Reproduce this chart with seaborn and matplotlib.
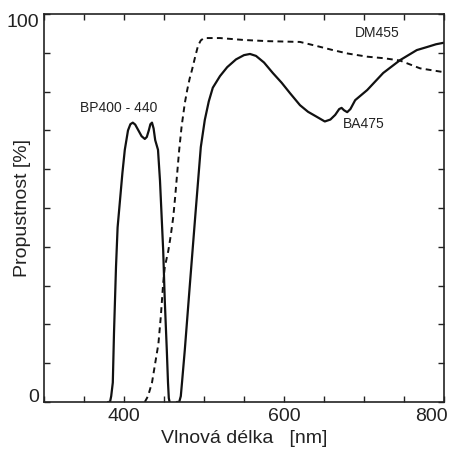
import numpy as np
import pandas as pd
import matplotlib
matplotlib.use("Agg")
import matplotlib.pyplot as plt
import matplotlib.transforms as mtransforms
import seaborn as sns

# BP400-440 excitation filter (solid)
bp_nm = [380, 382.5, 384, 386, 387.5, 390, 392, 395, 398, 401, 405, 408, 411, 414, 418,
         422, 426, 428.5, 431, 433, 435, 437, 439, 442.5, 445, 447, 449, 451, 453.5, 455, 456, 457]
bp_t = [0, 0, 1.5, 5, 17.8, 34.8, 45, 52, 59, 65, 70, 71.6, 72, 71.5, 70,
        68.5, 67.8, 68.3, 70, 71.6, 72, 70.5, 67.5, 65, 57, 48, 39, 26, 13.4, 5, 1, 0]

# BA475 barrier filter (solid)
ba_nm = [466, 469, 471, 472.5, 476, 482.5, 489, 496, 501, 506, 511, 520, 529, 540, 550, 557.5,
         565, 575, 586, 597, 607.5, 620, 630, 641, 651, 658, 664, 669, 672, 675, 679, 683,
         689, 704, 724, 745, 766, 779, 790, 800]
ba_t = [0, 0, 1.5, 5, 13.4, 30.7, 47.7, 65.7, 72.7, 77.5, 81, 84, 86.3, 88.3, 89.4, 89.7,
        89.2, 87.5, 84.8, 82.3, 79.6, 76.5, 74.8, 73.5, 72.3, 72.8, 74, 75.5, 75.8, 75.2, 74.7, 75.5,
        77.8, 80.4, 84.8, 88.1, 90.7, 91.5, 92.2, 92.6]

# DM455 dichroic mirror (dashed)
dm_nm = [426, 430, 435, 439, 443, 446, 449, 451, 455.4, 458.5, 461.6, 464, 466.5, 469, 472,
         476, 479, 482, 485, 489, 492.5, 496, 500, 520, 550, 580, 620, 640, 661, 680, 704,
         725, 745, 770, 800]
dm_t = [0, 1.5, 5, 10, 15, 22, 30.7, 34.8, 39, 43, 47.7, 53, 59, 65, 71,
        77, 80.4, 83.3, 85.6, 89, 91.8, 93.2, 93.8, 93.8, 93.3, 93, 92.8, 91.8, 90.7, 89.8, 89,
        88.6, 88, 86, 85]

labels = {"BP400 - 440": (345, 75.8), "DM455": (689, 95.1), "BA475": (674, 71.6)}

x_ticks = [300, 350, 400, 450, 500, 550, 600, 650, 700, 750, 800]
x_labels = ["", "", "400", "", "", "", "600", "", "", "", "800"]
y_ticks = [0, 10, 20, 30, 40, 50, 60, 70, 80, 90, 100]
y_labels = ["0", "", "", "", "", "", "", "", "", "", "100"]

sns.set_theme(style="ticks")
plt.rcParams['font.family'] = ['Liberation Sans', 'DejaVu Sans']

fig = plt.figure(figsize=(4.5, 4.58), dpi=100)
ax = fig.add_axes([44/450, 56/458, 400/450, 388/458])

bp = pd.DataFrame({"nm": bp_nm, "t": bp_t})
ba = pd.DataFrame({"nm": ba_nm, "t": ba_t})
dm = pd.DataFrame({"nm": dm_nm, "t": dm_t})

sns.lineplot(data=bp, x="nm", y="t", ax=ax, color="#111111", lw=1.6, sort=False)
sns.lineplot(data=ba, x="nm", y="t", ax=ax, color="#111111", lw=1.6, sort=False)
sns.lineplot(data=dm, x="nm", y="t", ax=ax, color="#111111", lw=1.4, sort=False,
             linestyle=(0, (3, 2.2)))

for txt, (x, y) in labels.items():
    ax.text(x, y, txt, fontsize=10, ha="left", va="center", color="#222222")

ax.set_xlim(300, 800)
ax.set_ylim(0, 100)
ax.set_xticks(x_ticks)
ax.set_xticklabels(x_labels)
ax.set_yticks(y_ticks)
ax.set_yticklabels(y_labels)
ax.tick_params(direction="in", length=4, width=1, top=True, right=True, labelsize=14,
               colors="#222222")
ax.tick_params(axis="x", pad=4)
ax.tick_params(axis="y", pad=3.6)

# alignment tweaks like the reference
ylabs = ax.get_yticklabels()
ylabs[0].set_verticalalignment("baseline")
ylabs[-1].set_verticalalignment("top")
xlabs = ax.get_xticklabels()
xlabs[-1].set_horizontalalignment("right")
xlabs[-1].set_transform(xlabs[-1].get_transform() +
                        mtransforms.ScaledTranslation(4/100, 0, fig.dpi_scale_trans))

for s in ax.spines.values():
    s.set_linewidth(1.2)
    s.set_color("#222222")
    s.set_visible(True)

ax.set_xlabel("Vlnová délka   [nm]", fontsize=14, color="#222222")
ax.set_ylabel("Propustnost [%]", fontsize=14, color="#222222")
ax.xaxis.set_label_coords(0.5, -0.072)
ax.yaxis.set_label_coords(-0.032, 0.5)

fig.savefig("out.png", dpi=100)
